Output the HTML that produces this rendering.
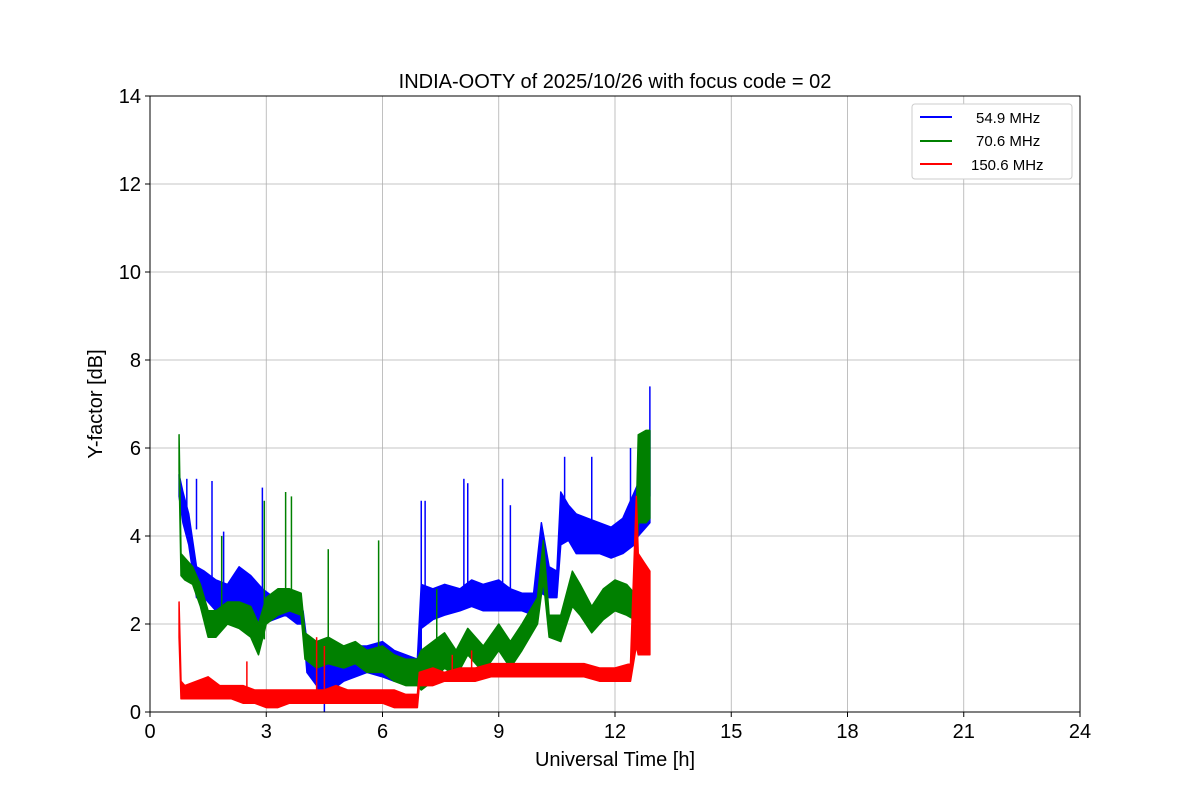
<!DOCTYPE html>
<html><head><meta charset="utf-8"><style>
body{margin:0;background:#fff}
svg text{font-family:"Liberation Sans","DejaVu Sans",sans-serif}
</style></head><body>
<svg id="chart" width="1200" height="800" xmlns="http://www.w3.org/2000/svg">
<rect width="1200" height="800" fill="#fff"/>
<g id="grid"></g><g id="series"></g><g id="axes"></g>
<text x="615" y="88" text-anchor="middle" font-size="20">INDIA-OOTY of 2025/10/26 with focus code = 02</text>
<text x="615" y="766" text-anchor="middle" font-size="20">Universal Time [h]</text>
<text transform="translate(102,404) rotate(-90)" text-anchor="middle" font-size="20">Y-factor [dB]</text>
<g>
<rect x="912" y="104" width="160" height="75" rx="3" fill="#fff" stroke="#ccc"/>
<g><line x1="920" y1="117" x2="952" y2="117" stroke="blue" stroke-width="2"/><text x="976" y="123" font-size="15">54.9 MHz</text></g>
<g><line x1="920" y1="141" x2="952" y2="141" stroke="green" stroke-width="2"/><text x="976" y="146" font-size="15">70.6 MHz</text></g>
<g><line x1="920" y1="164" x2="952" y2="164" stroke="red" stroke-width="2"/><text x="971" y="170" font-size="15">150.6 MHz</text></g>
</g>
</svg>
<script>
const xTicks=[0,3,6,9,12,15,18,21,24];
const yTicks=[0,2,4,6,8,10,12,14];
const blueT=[0.75,0.85,1.0,1.2,1.4,1.7,2.0,2.3,2.6,2.9,3.2,3.5,3.8,3.95,4.05,4.3,4.5,4.7,5.0,5.3,5.6,6.0,6.3,6.6,6.9,7.0,7.3,7.6,8.0,8.3,8.6,9.0,9.3,9.6,9.9,10.1,10.3,10.5,10.6,10.8,11.0,11.3,11.6,11.9,12.2,12.5,12.6,12.8,12.9];
const blueLo=[4.9,4.3,3.8,2.6,2.6,2.3,2.4,2.5,2.2,2.0,2.1,2.2,2.0,2.0,0.9,0.6,0.2,0.5,0.7,0.8,0.9,0.8,0.7,0.7,0.6,1.9,2.1,2.2,2.3,2.4,2.3,2.3,2.3,2.3,2.2,2.7,2.6,2.6,3.8,3.9,3.6,3.6,3.6,3.5,3.6,3.8,4.0,4.2,4.3];
const blueHi=[5.4,5.0,4.5,3.3,3.2,3.0,2.9,3.3,3.1,2.8,2.6,2.5,2.4,2.3,1.6,1.3,1.0,1.3,1.3,1.5,1.5,1.6,1.4,1.3,1.2,2.9,2.8,2.9,2.8,3.0,2.9,3.0,2.8,2.7,2.7,4.3,3.3,3.2,5.0,4.7,4.5,4.4,4.3,4.2,4.4,5.0,5.2,5.6,6.4];
const blueSpikeT=[0.95,1.2,1.6,1.9,2.9,4.5,7.0,7.1,8.1,8.2,9.1,9.3,10.7,11.4,12.4,12.9];
const blueSpikeV=[5.3,5.3,5.25,4.1,5.1,0,4.8,4.8,5.3,5.2,5.3,4.7,5.8,5.8,6.0,7.4];
const greenT=[0.75,0.8,0.9,1.1,1.3,1.5,1.7,2.0,2.3,2.6,2.8,3.0,3.3,3.6,3.9,4.0,4.3,4.6,5.0,5.3,5.6,6.0,6.3,6.6,6.9,7.0,7.3,7.6,7.9,8.2,8.6,9.0,9.3,9.6,10.0,10.15,10.3,10.6,10.9,11.1,11.4,11.7,12.0,12.3,12.5,12.6,12.8,12.9];
const greenLo=[5.5,3.1,3.0,2.9,2.4,1.7,1.7,2.0,1.9,1.7,1.3,2.0,2.2,2.3,2.2,1.2,1.0,1.1,1.0,1.1,0.9,0.9,0.7,0.6,0.6,0.5,0.7,1.0,0.8,1.3,0.9,1.4,1.0,1.4,2.0,3.0,1.7,1.6,2.4,2.2,1.8,2.1,2.3,2.2,2.1,4.3,4.3,4.4];
const greenHi=[6.3,3.6,3.5,3.3,2.9,2.3,2.3,2.5,2.5,2.4,2.0,2.6,2.8,2.8,2.7,1.8,1.6,1.7,1.5,1.6,1.4,1.5,1.3,1.2,1.2,1.4,1.6,1.8,1.4,1.9,1.5,2.0,1.6,2.0,2.6,3.9,2.2,2.2,3.2,2.9,2.4,2.8,3.0,2.9,2.7,6.3,6.4,6.4];
const greenSpikeT=[1.85,2.95,3.5,3.65,4.6,5.9,7.4];
const greenSpikeV=[4.0,4.8,5.0,4.9,3.7,3.9,2.8];
const redT=[0.75,0.8,0.9,1.2,1.5,1.8,2.1,2.4,2.7,3.0,3.3,3.6,3.9,4.2,4.5,4.8,5.1,5.4,5.7,6.0,6.3,6.6,6.9,6.95,7.3,7.6,8.0,8.4,8.8,9.2,9.6,10.0,10.4,10.8,11.2,11.6,12.0,12.4,12.55,12.6,12.75,12.9];
const redLo=[1.7,0.3,0.3,0.3,0.3,0.3,0.3,0.2,0.2,0.1,0.1,0.2,0.2,0.2,0.2,0.2,0.2,0.2,0.2,0.2,0.1,0.1,0.1,0.6,0.6,0.7,0.7,0.7,0.8,0.8,0.8,0.8,0.8,0.8,0.8,0.7,0.7,0.7,1.5,1.3,1.3,1.3];
const redHi=[2.5,0.7,0.6,0.7,0.8,0.6,0.6,0.6,0.5,0.5,0.5,0.5,0.5,0.5,0.5,0.6,0.5,0.5,0.5,0.5,0.5,0.4,0.4,0.9,1.0,0.9,1.0,1.0,1.1,1.1,1.1,1.1,1.1,1.1,1.1,1.0,1.0,1.1,4.9,3.6,3.4,3.2];
const redSpikeT=[2.5,4.3,4.5,7.8,8.3];
const redSpikeV=[1.15,1.7,1.5,1.3,1.4];

const X0=150,X1=1080,Y0=712,Y1=96;
const xs=v=>X0+(v-0)/(24-0)*(X1-X0);
const ys=v=>Y0-(v-0)/(14-0)*(Y0-Y1);
const NS="http://www.w3.org/2000/svg";
function mk(tag,attrs,parent){const e=document.createElementNS(NS,tag);for(const k in attrs)e.setAttribute(k,attrs[k]);parent.appendChild(e);return e;}
const grid=document.getElementById('grid'),axes=document.getElementById('axes'),ser=document.getElementById('series');
xTicks.forEach(t=>{
  const g=mk('line',{x1:xs(t),x2:xs(t),y1:Y0,y2:Y1,stroke:'#b0b0b0','stroke-width':0.8},grid);
  
  
  mk('line',{x1:xs(t),x2:xs(t),y1:Y0,y2:Y0+5,stroke:'#000'},axes);
  const l=mk('text',{x:xs(t),y:Y0+26,'text-anchor':'middle','font-size':20},axes);
  l.textContent=t;
  
  
});
yTicks.forEach(t=>{
  const g=mk('line',{x1:X0,x2:X1,y1:ys(t),y2:ys(t),stroke:'#b0b0b0','stroke-width':0.8},grid);
  
  
  mk('line',{x1:X0-5,x2:X0,y1:ys(t),y2:ys(t),stroke:'#000'},axes);
  const l=mk('text',{x:X0-9,y:ys(t)+7,'text-anchor':'end','font-size':20},axes);
  l.textContent=t;
  
  
});
const frame=mk('rect',{x:X0,y:Y1,width:X1-X0,height:Y0-Y1,fill:'none',stroke:'#000','stroke-width':1},axes);


function series(name,color,T,Lo,Hi,ST,SV){
  const g=mk('g',{},ser);
  
  
  let pts=T.map((t,i)=>xs(t)+','+ys(Hi[i]));
  for(let i=T.length-1;i>=0;i--)pts.push(xs(T[i])+','+ys(Lo[i]));
  mk('polygon',{points:pts.join(' '),fill:color,stroke:color,'stroke-width':1.5,'stroke-linejoin':'round'},g);
  ST.forEach((t,i)=>{
    let k=0;while(k<T.length-1&&T[k+1]<t)k++;
    const s=mk('line',{x1:xs(t),x2:xs(t),y1:ys((Lo[k]+Hi[k])/2),y2:ys(SV[i]),stroke:color,'stroke-width':1.5},g);
    
    
  });
}
series('series-54-9-mhz','blue',blueT,blueLo,blueHi,blueSpikeT,blueSpikeV);
series('series-70-6-mhz','green',greenT,greenLo,greenHi,greenSpikeT,greenSpikeV);
series('series-150-6-mhz','red',redT,redLo,redHi,redSpikeT,redSpikeV);
</script>
</body></html>
